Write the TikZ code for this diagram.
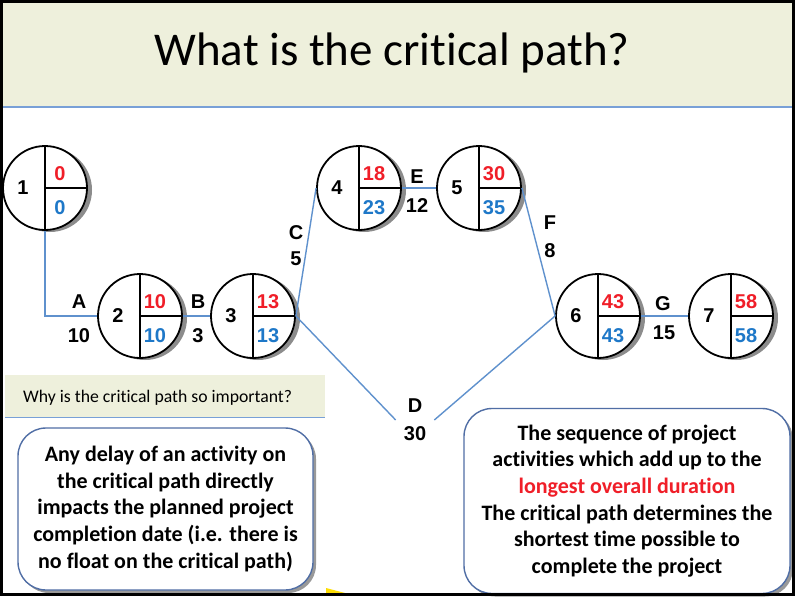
\documentclass[tikz,border=0pt]{standalone}
\usepackage{fontspec}
\setmainfont{Carlito}[RawFeature={-liga;-clig;-calt;-rlig;-dlig}]
\newfontfamily\arialfont{Liberation Sans}
\usetikzlibrary{shadows}
\usepackage{xcolor}
\definecolor{bandbeige}{RGB}{238,240,220}
\definecolor{bandblue}{RGB}{120,160,215}
\definecolor{linkblue}{RGB}{95,145,205}
\definecolor{esred}{RGB}{240,30,40}
\definecolor{lsblue}{RGB}{30,120,200}
\definecolor{boxblue}{RGB}{80,110,165}

\tikzset{
  event/.style={circle, draw, line width=1.8pt, fill=white, minimum size=84pt, inner sep=0pt,
    drop shadow={shadow xshift=5pt, shadow yshift=-2pt, fill=black!45, opacity=1}},
  evid/.style={font=\arialfont\fontsize{20}{20}\selectfont\bfseries, inner sep=0pt},
  evred/.style={font=\arialfont\fontsize{20}{20}\selectfont\bfseries, text=esred, inner sep=0pt},
  evblue/.style={font=\arialfont\fontsize{20}{20}\selectfont\bfseries, text=lsblue, inner sep=0pt},
  actlbl/.style={font=\arialfont\fontsize{20}{20}\selectfont\bfseries, inner sep=0pt},
  link/.style={draw=linkblue, line width=1.4pt},
  infobox/.style={draw=boxblue, line width=1.4pt, fill=white, rounded corners=28pt, align=center,
    font=\fontsize{22}{26.6}\selectfont\bfseries,
    drop shadow={shadow xshift=3pt, shadow yshift=-3pt, fill=black!40, opacity=1}}
}

\begin{document}
\begin{tikzpicture}[x=1pt, y=-1pt]
\useasboundingbox (0,0) rectangle (795,597);
\fill[white] (0,0) rectangle (795,597);
% title band
\fill[bandbeige] (0,0) rectangle (795,107);
\draw[bandblue, line width=2.5pt] (0,107) -- (795,107);
\node[anchor=base, font=\fontsize{47}{50}\selectfont] (title) at (392,65) {What is the critical path?};

% events
\node[event] (n1) at (45,188) {};
\node[event] (n2) at (140,316) {};
\node[event] (n3) at (253,316) {};
\node[event] (n4) at (359,188) {};
\node[event] (n5) at (479,188) {};
\node[event] (n6) at (598,316) {};
\node[event] (n7) at (731,316) {};
\draw[line width=1.8pt] (n1.north) -- (n1.south) (n1.center) -- (n1.east);
\draw[line width=1.8pt] (n2.north) -- (n2.south) (n2.center) -- (n2.east);
\draw[line width=1.8pt] (n3.north) -- (n3.south) (n3.center) -- (n3.east);
\draw[line width=1.8pt] (n4.north) -- (n4.south) (n4.center) -- (n4.east);
\draw[line width=1.8pt] (n5.north) -- (n5.south) (n5.center) -- (n5.east);
\draw[line width=1.8pt] (n6.north) -- (n6.south) (n6.center) -- (n6.east);
\draw[line width=1.8pt] (n7.north) -- (n7.south) (n7.center) -- (n7.east);

% 1: start
\node[evid] (id1) at ([xshift=-22pt]n1.center) {1};
\node[evred] (es1) at ([xshift=15pt, yshift=14pt]n1.center) {0};
\node[evblue] (ls1) at ([xshift=15pt, yshift=-20pt]n1.center) {0};
% 2
\node[evid] (id2) at ([xshift=-22pt]n2.center) {2};
\node[evred] (es2) at ([xshift=15pt, yshift=14pt]n2.center) {10};
\node[evblue] (ls2) at ([xshift=15pt, yshift=-20pt]n2.center) {10};
% 3
\node[evid] (id3) at ([xshift=-22pt]n3.center) {3};
\node[evred] (es3) at ([xshift=15pt, yshift=14pt]n3.center) {13};
\node[evblue] (ls3) at ([xshift=15pt, yshift=-20pt]n3.center) {13};
% 4
\node[evid] (id4) at ([xshift=-22pt]n4.center) {4};
\node[evred] (es4) at ([xshift=15pt, yshift=14pt]n4.center) {18};
\node[evblue] (ls4) at ([xshift=15pt, yshift=-20pt]n4.center) {23};
% 5
\node[evid] (id5) at ([xshift=-22pt]n5.center) {5};
\node[evred] (es5) at ([xshift=15pt, yshift=14pt]n5.center) {30};
\node[evblue] (ls5) at ([xshift=15pt, yshift=-20pt]n5.center) {35};
% 6
\node[evid] (id6) at ([xshift=-22pt]n6.center) {6};
\node[evred] (es6) at ([xshift=15pt, yshift=14pt]n6.center) {43};
\node[evblue] (ls6) at ([xshift=15pt, yshift=-20pt]n6.center) {43};
% 7: finish
\node[evid] (id7) at ([xshift=-22pt]n7.center) {7};
\node[evred] (es7) at ([xshift=15pt, yshift=14pt]n7.center) {58};
\node[evblue] (ls7) at ([xshift=15pt, yshift=-20pt]n7.center) {58};

% activities
\node[actlbl] (lA) at (79,302) {A};
\node[actlbl] (dA) at (79,336) {10};
\node[actlbl] (lB) at (198,302) {B};
\node[actlbl] (dB) at (198,336) {3};
\node[actlbl] (lC) at (296,233) {C};
\node[actlbl] (dC) at (296,259) {5};
\node[actlbl] (lE) at (417,177) {E};
\node[actlbl] (dE) at (417,206) {12};
\node[actlbl] (lF) at (550,223) {F};
\node[actlbl] (dF) at (550,251) {8};
\node[actlbl] (lG) at (663,304) {G};
\node[actlbl] (dG) at (664,333) {15};
\node[actlbl, align=center, font=\arialfont\fontsize{20}{28}\selectfont\bfseries] (lD) at (415,420) {D\\30};

\draw[link] (n1.south) |- (n2.west);
\draw[link] (n2.east) -- (n3.west);
\draw[link] (n3.east) -- ([xshift=-8pt]lD.west);
\draw[link] ([xshift=8pt]lD.east) -- (n6.west);
\draw[link] (n3.east) -- (n4.west);
\draw[link] (n4.east) -- (n5.west);
\draw[link] (n5.east) -- (n6.west);
\draw[link] (n6.east) -- (n7.west);

% question band
\fill[bandbeige] (5,375) rectangle (325,417);
\draw[bandblue, line width=1.2pt] (5,417.5) -- (325,417.5);
\node[anchor=base west, font=\fontsize{17.7}{20}\selectfont, inner sep=0pt] (whyq) at (23,402) {Why is the critical path so important?};

% answer boxes
\node[infobox, minimum width=295pt, minimum height=162pt] (whybox) at (165.5,509) {Any delay of an activity on\\the critical path directly\\impacts the planned project\\completion date (i.e. there is\\no float on the critical path)};
\node[infobox, minimum width=326pt, minimum height=185pt] (cpbox) at (627,501) {The sequence of project\\activities which add up to the\\\textcolor{esred}{longest overall duration}\\The critical path determines the\\shortest time possible to\\complete the project};

% frame
\fill[yellow!80!orange] (326,588) -- (345,593) -- (326,593) -- cycle;
\draw[line width=3pt] (1.5,1.5) rectangle (793.5,594);
\end{tikzpicture}
\end{document}
